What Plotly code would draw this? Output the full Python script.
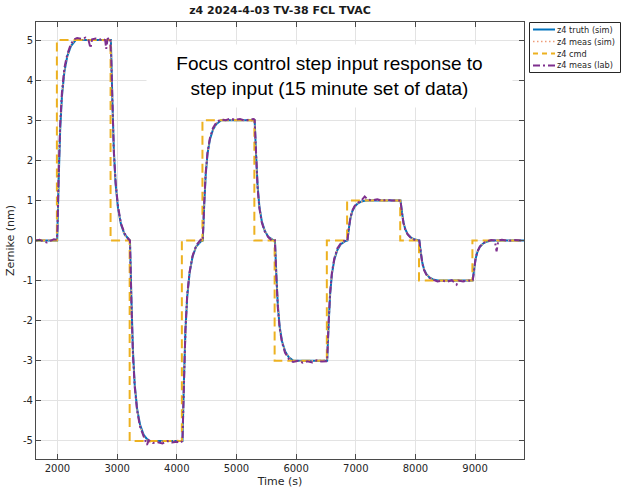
import plotly.graph_objects as go

# ---- commanded z4 focus steps (step-after / "hv" shape) ----
cmd_t = [1640, 1990, 2890, 3210, 4085, 4430, 5300, 5640, 6515, 6855, 7745, 8060, 8955, 9820]
cmd_v = [0, 5, 0, -5, 0, 3, 0, -3, 0, 1, 0, -1, 0, 0]

# ---- simulated truth response ----
truth_t = [1640,
           1995, 2020, 2045, 2075, 2115, 2165, 2225, 2305,
           2895, 2920, 2945, 2975, 3015, 3065, 3125, 3205,
           3215, 3240, 3265, 3295, 3335, 3385, 3445, 3525,
           4095, 4120, 4145, 4175, 4215, 4265, 4325, 4405,
           4435, 4460, 4485, 4515, 4555, 4605, 4665, 4745,
           5305, 5330, 5355, 5385, 5425, 5475, 5535, 5615,
           5645, 5670, 5695, 5725, 5765, 5815, 5875, 5955,
           6520, 6545, 6570, 6600, 6640, 6690, 6750, 6830,
           6860, 6885, 6910, 6940, 6980, 7030, 7090, 7170,
           7750, 7775, 7800, 7830, 7870, 7920, 7980, 8055,
           8065, 8090, 8115, 8145, 8185, 8235, 8295, 8375,
           8960, 8985, 9010, 9040, 9080, 9130, 9190, 9270,
           9820]
truth_v = [0.0,
           0.0, 1.5, 2.75, 3.6, 4.2, 4.6, 4.85, 5.0,
           5.0, 3.5, 2.25, 1.4, 0.8, 0.4, 0.15, 0.02,
           0.0, -1.5, -2.75, -3.6, -4.2, -4.6, -4.85, -5.0,
           -5.0, -3.5, -2.25, -1.4, -0.8, -0.4, -0.15, -0.02,
           0.0, 0.9, 1.65, 2.16, 2.52, 2.76, 2.91, 3.0,
           3.0, 2.1, 1.35, 0.84, 0.48, 0.24, 0.09, 0.01,
           0.0, -0.9, -1.65, -2.16, -2.52, -2.76, -2.91, -3.0,
           -3.0, -2.1, -1.35, -0.84, -0.48, -0.24, -0.09, -0.01,
           0.0, 0.3, 0.55, 0.72, 0.84, 0.92, 0.97, 1.0,
           1.0, 0.7, 0.45, 0.28, 0.16, 0.08, 0.03, 0.0,
           0.0, -0.3, -0.55, -0.72, -0.84, -0.92, -0.97, -1.0,
           -1.0, -0.7, -0.45, -0.28, -0.16, -0.08, -0.03, 0.0,
           0.0]

# ---- simulated measurement (same sample times as truth) ----
meas_sim_v = [0.02,
              0.01, 1.45, 2.8, 3.55, 4.22, 4.58, 4.88, 5.02,
              4.98, 3.55, 2.2, 1.42, 0.78, 0.42, 0.13, 0.03,
              -0.02, -1.45, -2.8, -3.55, -4.22, -4.62, -4.87, -5.03,
              -4.98, -3.45, -2.3, -1.38, -0.82, -0.38, -0.16, 0.01,
              0.02, 0.88, 1.68, 2.14, 2.55, 2.74, 2.93, 3.02,
              2.98, 2.12, 1.32, 0.86, 0.46, 0.25, 0.08, 0.02,
              -0.01, -0.92, -1.62, -2.18, -2.5, -2.78, -2.9, -3.02,
              -2.98, -2.08, -1.37, -0.82, -0.5, -0.22, -0.1, 0.01,
              0.01, 0.32, 0.53, 0.74, 0.83, 0.93, 0.96, 1.01,
              0.99, 0.72, 0.43, 0.29, 0.15, 0.09, 0.02, 0.01,
              -0.01, -0.28, -0.57, -0.7, -0.85, -0.91, -0.98, -1.01,
              -0.99, -0.72, -0.43, -0.29, -0.15, -0.09, -0.02, 0.01,
              -0.01]

# ---- lab measurement ----
lab_t = [1640, 1700, 1760, 1820, 1880, 1940, 1990,
         2000, 2020, 2045, 2075, 2115, 2165, 2225, 2280, 2330, 2400, 2470,
         2520, 2553, 2580, 2640, 2700, 2760, 2800, 2817, 2840, 2880,
         2900, 2920, 2945, 2975, 3015, 3065, 3125, 3190, 3215,
         3240, 3265, 3295, 3335, 3385, 3445, 3500, 3530, 3600, 3680, 3760,
         3840, 3920, 4000, 4060, 4095,
         4120, 4145, 4175, 4215, 4265, 4325, 4400, 4435,
         4460, 4485, 4515, 4555, 4605, 4665, 4740, 4820, 4900, 4980, 5060,
         5140, 5220, 5290, 5305,
         5330, 5355, 5385, 5425, 5475, 5535, 5610, 5645,
         5670, 5695, 5725, 5765, 5815, 5875, 5950, 6030, 6110, 6190, 6270,
         6350, 6430, 6505, 6520,
         6545, 6570, 6600, 6640, 6690, 6750, 6830, 6860,
         6885, 6910, 6940, 6980, 7030, 7090, 7150, 7200, 7280, 7360, 7440,
         7520, 7600, 7680, 7750,
         7775, 7800, 7830, 7870, 7920, 7980, 8065,
         8090, 8115, 8145, 8185, 8235, 8295, 8370, 8450, 8530, 8610, 8690,
         8720, 8800, 8880, 8960,
         8985, 9010, 9040, 9080, 9130, 9190, 9270, 9330, 9360, 9390, 9450,
         9550, 9650, 9750, 9820]
lab_v = [0.0, 0.02, -0.02, -0.05, -0.01, 0.03, 0.02,
         0.3, 1.7, 2.9, 3.7, 4.3, 4.65, 4.9, 5.02, 5.05, 5.03, 5.06,
         5.0, 4.8, 5.02, 5.04, 5.01, 5.03, 5.0, 4.78, 5.03, 5.06,
         4.6, 3.4, 2.2, 1.45, 0.85, 0.42, 0.18, 0.03, 0.0,
         -1.6, -2.85, -3.65, -4.25, -4.65, -4.9, -5.1, -4.98, -5.05, -5.03, -5.06,
         -5.0, -5.04, -5.02, -5.05, -5.0,
         -3.4, -2.2, -1.35, -0.78, -0.38, -0.12, 0.02, 0.0,
         0.95, 1.7, 2.2, 2.55, 2.8, 2.95, 3.02, 3.0, 3.04, 3.01, 3.03,
         2.99, 3.02, 3.03, 3.0,
         2.05, 1.3, 0.8, 0.45, 0.22, 0.08, -0.02, 0.0,
         -0.95, -1.7, -2.2, -2.55, -2.8, -2.95, -3.03, -3.0, -3.05, -3.01, -3.04,
         -2.99, -3.02, -3.0, -3.01,
         -2.05, -1.3, -0.8, -0.45, -0.2, -0.07, 0.02, 0.0,
         0.32, 0.57, 0.74, 0.86, 0.94, 0.99, 1.1, 1.02, 1.0, 1.03, 0.99,
         1.02, 1.0, 1.01, 1.0,
         0.68, 0.43, 0.27, 0.15, 0.07, 0.02, 0.0,
         -0.32, -0.57, -0.74, -0.86, -0.93, -0.98, -1.02, -1.0, -1.03, -0.99, -1.1,
         -1.0, -1.02, -1.0, -1.01,
         -0.68, -0.43, -0.27, -0.15, -0.07, -0.02, 0.01, 0.0, -0.27, 0.0, 0.02,
         -0.01, 0.01, 0.0, 0.0]

x_ticks = [2000, 3000, 4000, 5000, 6000, 7000, 8000, 9000]
y_ticks = [-5, -4, -3, -2, -1, 0, 1, 2, 3, 4, 5]
y_ticktext = ["-5", "-4", "-3", "-2", "-1", "0", "1", "2", "3", "4", "5"]

series_names = ["z4 truth (sim)", "z4 meas (sim)", "z4 cmd", "z4 meas (lab)"]
C_TRUTH, C_MSIM, C_CMD, C_LAB = "#0072BD", "#EE9C78", "#EDB120", "#7E2F8E"
DASH_MSIM, DASH_CMD, DASH_LAB = "1.5px,2.5px", "9px,5px", "7px,3px,2px,3px"

fig = go.Figure()
fig.add_trace(go.Scatter(x=truth_t, y=truth_v, mode="lines", name=series_names[0],
                         line=dict(color=C_TRUTH, width=2)))
fig.add_trace(go.Scatter(x=truth_t, y=meas_sim_v, mode="lines", name=series_names[1],
                         line=dict(color=C_MSIM, width=1.5, dash=DASH_MSIM)))
fig.add_trace(go.Scatter(x=cmd_t, y=cmd_v, mode="lines", name=series_names[2],
                         line=dict(color=C_CMD, width=2, dash=DASH_CMD, shape="hv")))
fig.add_trace(go.Scatter(x=lab_t, y=lab_v, mode="lines", name=series_names[3],
                         line=dict(color=C_LAB, width=2, dash=DASH_LAB)))

W, H = 622, 491
L, R, T, B = 36, 98, 22, 32
PW, PH = W - L - R, H - T - B


def px_x(px):
    return (px - L) / PW


def px_y(py):
    return (H - B - py) / PH


AX_COLOR = "#4a4a4a"
GRID = "#e3e3e3"
common_axis = dict(showline=True, linecolor=AX_COLOR, linewidth=1, mirror="ticks",
                   ticks="inside", ticklen=5, tickcolor=AX_COLOR, tickwidth=1,
                   showgrid=True, gridcolor=GRID, gridwidth=1, zeroline=False,
                   tickfont=dict(family="DejaVu Sans", size=10, color="#262626"))

fig.update_layout(
    width=W, height=H,
    margin=dict(l=L, r=R, t=T, b=B, autoexpand=False),
    paper_bgcolor="white", plot_bgcolor="white",
    showlegend=False,
    font=dict(family="DejaVu Sans", size=10, color="#262626"),
    title=dict(text="<b>z4 2024-4-03 TV-38 FCL TVAC</b>",
               font=dict(family="DejaVu Sans", size=11, color="#1a1a1a"),
               xref="paper", x=0.5, xanchor="center",
               yref="container", y=1 - 10 / H, yanchor="middle"),
    xaxis=dict(range=[1640, 9820], tickvals=x_ticks,
               title=dict(text="Time (s)", font=dict(size=11), standoff=4),
               **common_axis),
    yaxis=dict(range=[-5.45, 5.45], tickvals=y_ticks, ticktext=y_ticktext,
               title=dict(text="Zernike (nm)", font=dict(size=11), standoff=6),
               **common_axis),
)

# text box inside the axes
fig.add_annotation(
    text="Focus control step input response to<br>step input (15 minute set of data)",
    xref="paper", yref="paper", x=px_x(329.5), y=px_y(76),
    xanchor="center", yanchor="middle", showarrow=False,
    width=363, height=60, bgcolor="white",
    font=dict(family="Liberation Sans", size=19, color="black"),
)

# legend box to the right of the axes
shapes = [dict(type="rect", xref="paper", yref="paper",
               x0=px_x(529.5), x1=px_x(620.5), y0=px_y(72.5), y1=px_y(22.5),
               line=dict(color="#262626", width=1), fillcolor="white")]
row_y = [29.5, 41.5, 53.5, 65.5]
styles = [(C_TRUTH, "solid", 2), (C_MSIM, DASH_MSIM, 1.5), (C_CMD, "5px,4px", 2), (C_LAB, DASH_LAB, 2)]
for name, ry, (col, dash, w) in zip(series_names, row_y, styles):
    shapes.append(dict(type="line", xref="paper", yref="paper",
                       x0=px_x(533), x1=px_x(555), y0=px_y(ry), y1=px_y(ry),
                       line=dict(color=col, width=w, dash=dash)))
    fig.add_annotation(text=name, xref="paper", yref="paper",
                       x=px_x(555.5), y=px_y(ry), xanchor="left", yanchor="middle",
                       showarrow=False, borderpad=0,
                       font=dict(family="DejaVu Sans", size=8.2, color="#262626"))
fig.update_layout(shapes=shapes)

fig.write_html("out.html")
